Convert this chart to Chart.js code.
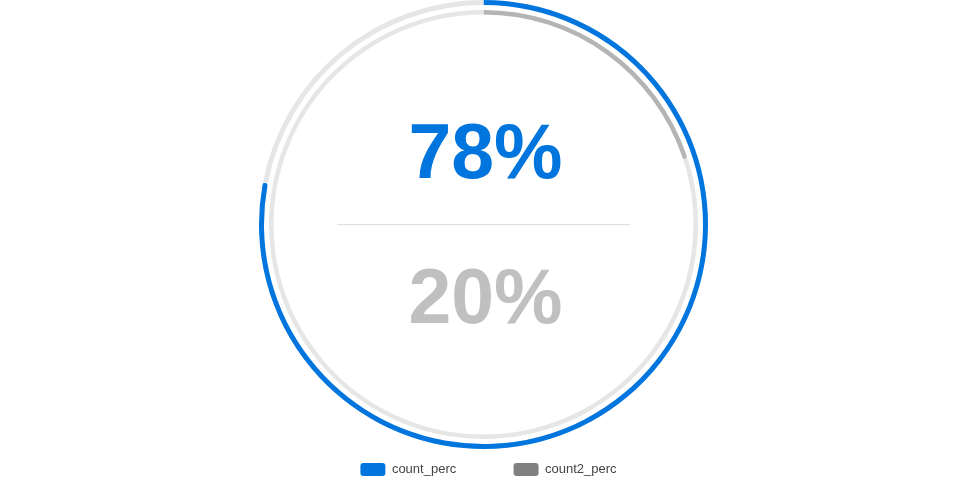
<!DOCTYPE html>
<html>
<head>
<meta charset="utf-8">
<script src="https://cdn.jsdelivr.net/npm/chart.js@4.4.1/dist/chart.umd.min.js"></script>
<style>
  html, body { margin: 0; padding: 0; background: #ffffff; }
  #wrap { width: 973px; height: 496px; position: relative; }
</style>
</head>
<body>
<div id="wrap"><canvas id="c" width="973" height="496"></canvas></div>
<script>
// ---- data ----
const seriesNames = ['count_perc', 'count2_perc'];
const seriesValues = [78, 20];          // percent
const seriesTotals = [100, 100];
const centerLabels = ['78%', '20%'];

// ---- styles ----
const BLUE = '#0075DD';
const TRACK = '#e6e6e6';
const INNER_GRAY = '#b4b4b4';
const LEGEND_GRAY = '#808080';
const TEXT_GRAY = '#c0c0c0';

const legendSpacer = '\u0020'.repeat(12);

const centerPlugin = {
  id: 'centerText',
  afterLayout(chart) {
    // keep legend centred on the full canvas width
    chart.legend.left = 2;
    chart.legend.right = chart.width + 2;
  },
  afterDatasetsDraw(chart) {
    const meta = chart.getDatasetMeta(0);
    const arc = meta.data[0];
    const cx = arc.x, cy = arc.y;
    const ctx = chart.ctx;
    ctx.save();
    // divider
    ctx.fillStyle = '#e2e2e2';
    ctx.fillRect(cx - 146.5, cy - 0.5, 293, 1.2);
    ctx.textAlign = 'center';
    ctx.textBaseline = 'alphabetic';
    ctx.font = 'bold 77px "Liberation Sans", Arial, sans-serif';
    ctx.fillStyle = BLUE;
    ctx.fillText(centerLabels[0], cx + 2, cy - 46.5);
    ctx.fillStyle = TEXT_GRAY;
    ctx.fillText(centerLabels[1], cx + 2, cy + 98.5);
    ctx.restore();
  }
};

const valueEndRadius = (ctx) => ctx.dataIndex === 0
  ? {outerStart: 0, innerStart: 0, outerEnd: 2.4, innerEnd: 2.4}
  : 0;

new Chart(document.getElementById('c'), {
  type: 'doughnut',
  data: {
    labels: ['value', 'rest'],
    datasets: [
      {
        label: seriesNames[0],
        data: [seriesValues[0], seriesTotals[0] - seriesValues[0]],
        backgroundColor: [BLUE, TRACK],
        borderWidth: 0,
        borderRadius: valueEndRadius,
        weight: 5
      },
      {
        label: 'gap',
        data: [1],
        backgroundColor: ['rgba(0,0,0,0)'],
        borderWidth: 0,
        weight: 5
      },
      {
        label: seriesNames[1],
        data: [seriesValues[1], seriesTotals[1] - seriesValues[1]],
        backgroundColor: [INNER_GRAY, TRACK],
        borderWidth: 0,
        borderRadius: valueEndRadius,
        weight: 4.5
      }
    ]
  },
  options: {
    responsive: false,
    animation: false,
    events: [],
    cutout: (210 / 224.5 * 100) + '%',
    layout: { padding: { left: 0, right: 6, top: 0, bottom: 10 } },
    plugins: {
      tooltip: { enabled: false },
      legend: {
        position: 'bottom',
        labels: {
          boxWidth: 25,
          boxHeight: 13,
          padding: 14,
          color: '#444444',
          useBorderRadius: true,
          borderRadius: 3,
          font: { family: '"Liberation Sans", Arial, sans-serif', size: 13 },
          generateLabels: () => [
            { text: seriesNames[0] + legendSpacer, fillStyle: BLUE, strokeStyle: BLUE, lineWidth: 0, hidden: false, borderRadius: 3, fontColor: '#444444' },
            { text: seriesNames[1], fillStyle: LEGEND_GRAY, strokeStyle: LEGEND_GRAY, lineWidth: 0, hidden: false, borderRadius: 3, fontColor: '#444444' }
          ]
        }
      }
    }
  },
  plugins: [centerPlugin]
});
</script>
</body>
</html>
